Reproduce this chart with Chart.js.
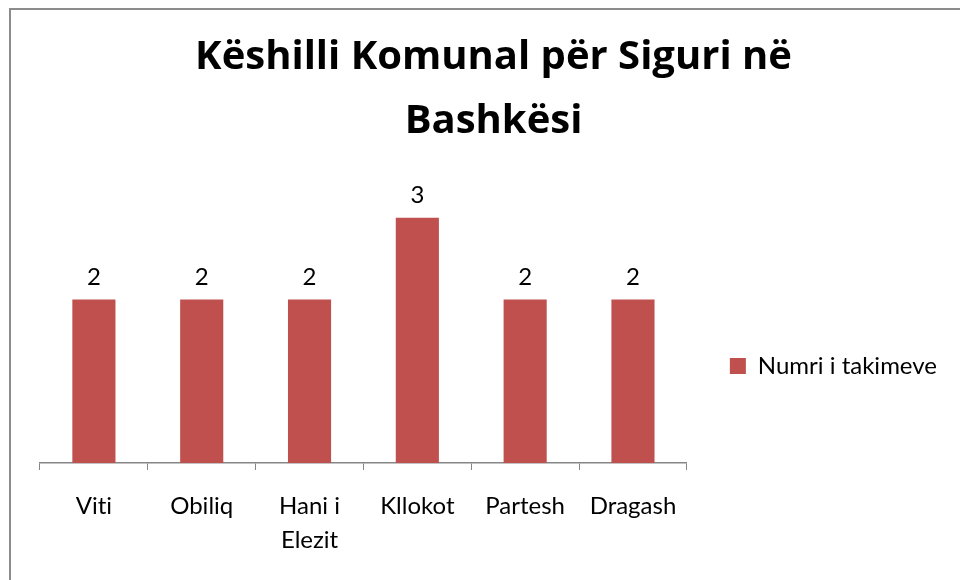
<!DOCTYPE html>
<html>
<head>
<meta charset="utf-8">
<script src="https://cdn.jsdelivr.net/npm/chart.js@4"></script>
<style>
  html, body { margin: 0; padding: 0; background: #fff; }
  #wrap { position: relative; width: 960px; height: 580px; overflow: hidden; }
  #frame { position: absolute; left: 9px; top: 8px; width: 1000px; height: 640px; border: 2px solid #8c8c8c; box-sizing: border-box; }
  canvas { position: absolute; left: 0; top: 0; }
</style>
</head>
<body>
<div id="wrap">
  <div id="frame"></div>
  <canvas id="meetingsChart" width="960" height="580"></canvas>
</div>
<script>
// chart data
const titleLines = ["Këshilli Komunal për Siguri në", "Bashkësi"];
const categories = ["Viti", "Obiliq", ["Hani i", "Elezit"], "Kllokot", "Partesh", "Dragash"];
const seriesLabel = "Numri i takimeve";
const meetings = [2, 2, 2, 3, 2, 2];
const yMax = 4;

// no "ti" ligature in Lato
const plainText = {
  id: "plainText",
  beforeDraw(chart) {
    chart.ctx.textRendering = "optimizeSpeed";
  },
};

// numbers above the bars
const valueLabels = {
  id: "valueLabels",
  afterDatasetsDraw(chart) {
    const ctx = chart.ctx;
    const meta = chart.getDatasetMeta(0);
    ctx.save();
    ctx.font = "24px Lato";
    ctx.fillStyle = "#000";
    ctx.textAlign = "center";
    ctx.textBaseline = "middle";
    meta.data.forEach((bar, i) => {
      ctx.fillText(String(meetings[i]), bar.x, bar.y - 22);
    });
    ctx.restore();
  },
};

const ctx = document.getElementById("meetingsChart");
new Chart(ctx, {
  type: "bar",
  data: {
    labels: categories,
    datasets: [
      {
        label: seriesLabel,
        data: meetings,
        backgroundColor: "#C0504D",
        borderWidth: 0,
        categoryPercentage: 1,
        barPercentage: 0.4,
      },
    ],
  },
  options: {
    responsive: false,
    animation: false,
    layout: {
      padding: { left: 40, right: 13, top: 0, bottom: 4 },
    },
    plugins: {
      title: {
        display: true,
        text: titleLines,
        color: "#000",
        font: { family: "Open Sans", size: 40, weight: "bold", lineHeight: 64 / 40 },
        padding: { top: 26, bottom: -18 },
      },
      legend: {
        position: "right",
        title: { display: true, text: "", padding: { top: 70, bottom: 71.6 } },
        labels: {
          boxWidth: 16,
          boxHeight: 16,
          padding: 43,
          color: "#000",
          font: { family: "Lato", size: 24 },
        },
      },
      tooltip: { enabled: false },
    },
    scales: {
      x: {
        grid: { drawOnChartArea: false, drawTicks: true, tickLength: 7, color: "#868686" },
        border: { color: "#868686", width: 1.5 },
        ticks: {
          color: "#000",
          padding: 19,
          maxRotation: 0,
          autoSkip: false,
          font: { family: "Lato", size: 24, lineHeight: 34 / 24 },
        },
      },
      y: { display: false, min: 0, max: yMax },
    },
  },
  plugins: [plainText, valueLabels],
});
</script>
</body>
</html>
